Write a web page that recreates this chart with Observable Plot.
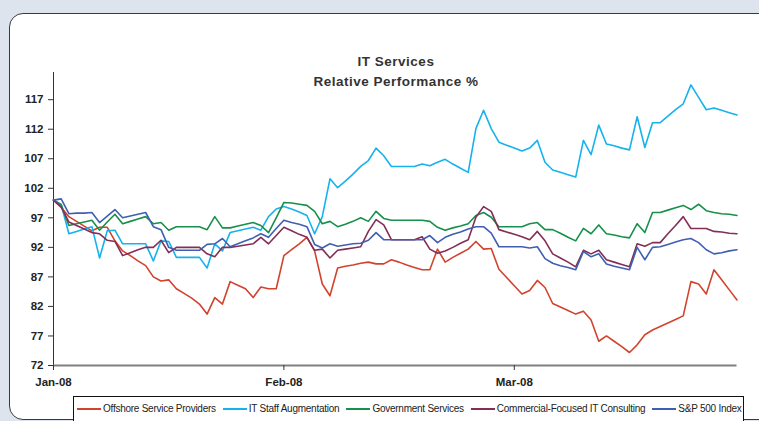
<!DOCTYPE html>
<html><head><meta charset="utf-8">
<script src="https://cdn.jsdelivr.net/npm/d3@7"></script>
<script src="https://cdn.jsdelivr.net/npm/@observablehq/plot@0.6"></script>
<style>
html,body{margin:0;padding:0;background:#dde4ee;width:759px;height:421px;overflow:hidden;font-family:"Liberation Sans",Arial,sans-serif;}
#panel{position:absolute;left:9px;top:13px;width:820px;height:405px;background:#fff;border:1.6px solid #3a3a3a;border-radius:14px;}
#title{position:absolute;left:53px;width:686px;top:52px;text-align:center;font-weight:bold;font-size:13.5px;color:#333;line-height:19.5px;letter-spacing:0.5px;}
#chart{position:absolute;left:0;top:0;}
#legend{position:absolute;left:73px;top:396px;width:671px;height:40px;border:1px solid #111;background:#fff;box-sizing:border-box;display:flex;align-items:flex-start;padding:5px 0 0 3px;font-family:"Liberation Sans Narrow","Arial Narrow","Liberation Sans",sans-serif;font-size:10px;color:#222;letter-spacing:-0.25px;}
.item{display:flex;align-items:center;margin-right:7px;white-space:nowrap;height:13px;}
.sw{width:24px;height:2px;margin-right:2px;}
</style></head>
<body>
<div id="panel"></div>
<div id="title">IT Services<br>Relative Performance %</div>
<div id="chart"></div>
<div id="legend"></div>
<script>
// Series names and colours
const seriesNames = ["Offshore Service Providers","IT Staff Augmentation","Government Services","Commercial-Focused IT Consulting","S&P 500 Index"];
const seriesColors = ["#d2432e","#16b2ee","#16904a","#832e55","#3f5fb2"];

// x-axis tick labels and the category positions where they fall
const tickLabels = ["Jan-08","Feb-08","Mar-08"];
const tickIndex = [0, 30, 60];

// y-axis tick labels
const yTicks = [72,77,82,87,92,97,102,107,112,117];

// Relative performance values (index 100 = start), one per category
const offshore = [100,98.8,97.2,96.4,95.6,94.8,95.4,95.4,93.1,91.4,90.6,89.7,88.9,87.0,86.3,86.5,85.0,84.2,83.4,
  82.4,80.7,83.5,82.4,86.2,85.6,85.0,83.5,85.3,85.0,85.0,90.6,91.6,92.6,93.7,91.4,85.8,83.8,88.5,
  88.8,89.0,89.3,89.5,89.2,89.2,89.9,89.5,89.0,88.6,88.2,88.2,91.7,89.5,90.3,91.0,91.7,93.0,91.7,
  91.8,88.3,86.9,85.5,84.1,84.7,86.4,85.2,82.5,81.9,81.3,80.7,81.2,79.7,76.1,77.0,76.1,75.2,74.2,
  75.5,77.2,78.0,78.6,79.2,79.8,80.4,86.2,85.8,84.1,88.2,86.5,84.8,83.1];
const itStaff = [100,99.3,94.3,94.7,95.1,95.5,90.2,94.8,94.9,92.6,92.6,92.6,92.6,89.7,93.1,93.0,90.3,90.3,90.3,
  90.3,88.5,92.6,91.4,94.5,94.8,95.1,95.4,94.9,97.2,98.5,98.9,98.5,98.0,97.4,94.3,97.2,103.6,102.1,
  103.2,104.4,105.7,106.7,108.8,107.5,105.7,105.7,105.7,105.7,106.1,105.8,106.4,106.9,106.1,105.4,104.7,112.1,115.2,
  112.1,109.8,109.3,108.8,108.3,108.8,110.1,106.4,105.1,104.7,104.3,103.9,110.1,107.7,112.7,109.5,109.2,108.8,108.5,
  114.1,108.9,113.1,113.1,114.2,115.3,116.3,119.5,117.4,115.3,115.6,115.2,114.8,114.4];
const government = [100,99.2,95.7,96.0,96.3,96.6,94.9,96.3,97.6,96.0,96.4,96.8,97.2,96.0,96.2,94.9,95.5,95.5,95.5,
  95.5,95.0,97.2,95.3,95.3,95.6,95.9,96.2,95.7,94.5,97.0,99.6,99.5,99.3,99.1,98.1,96.0,96.4,95.5,
  95.9,96.4,97.0,96.4,98.1,96.9,96.6,96.6,96.6,96.6,96.6,96.4,95.4,94.9,95.3,95.6,96.0,97.4,97.9,
  97.1,95.5,95.5,95.5,95.5,96.0,96.2,95.0,95.0,94.4,93.7,93.1,95.2,94.3,95.8,94.3,94.1,93.8,93.6,
  96.0,94.5,97.9,97.9,98.3,98.7,99.1,98.4,99.3,98.2,97.9,97.7,97.6,97.4];
const commercial = [100,98.8,96.3,95.7,95.1,94.5,94.3,93.2,93.0,90.6,91.1,91.6,92.0,92.0,93.2,91.1,92.0,92.0,92.0,
  92.0,90.9,90.4,92.0,92.0,92.2,92.4,92.6,93.7,92.6,94.0,95.4,94.8,94.2,93.7,91.5,91.7,90.2,91.5,
  91.7,91.9,92.1,94.7,96.7,95.8,93.3,93.3,93.3,93.3,93.8,91.7,91.0,91.4,92.0,92.7,93.3,97.1,98.9,
  98.1,95.0,94.6,94.2,93.8,93.3,94.7,93.1,90.9,90.2,89.5,88.7,91.5,90.9,91.5,89.9,89.5,89.1,88.7,
  92.6,92.2,92.8,92.8,94.3,95.7,97.2,95.2,95.2,95.2,94.7,94.6,94.4,94.3];
const sp500 = [100,100.2,97.7,97.8,97.8,97.9,96.2,97.3,98.4,97.0,97.3,97.6,97.9,95.5,95.0,92.0,91.5,91.5,91.5,
  91.5,92.5,92.6,93.5,92.1,92.6,93.1,93.6,94.3,93.7,95.2,96.6,96.2,95.9,95.5,92.5,91.9,92.6,92.2,
  92.4,92.6,92.7,93.2,94.5,93.3,93.3,93.3,93.3,93.3,93.3,94.0,92.8,93.7,94.2,94.6,95.1,95.5,95.5,
  94.4,92.1,92.1,92.1,92.1,91.9,92.1,90.1,89.3,88.9,88.6,88.2,91.3,90.4,90.9,89.2,88.8,88.5,88.2,
  92.0,89.9,92.0,92.1,92.5,92.9,93.3,93.5,92.8,91.6,90.9,91.1,91.4,91.6];

const seriesValues = [offshore, itStaff, government, commercial, sp500];
const data = seriesValues.flatMap((vals, k) => vals.map((v, i) => ({i, v, s: seriesNames[k]})));
const lastIndex = offshore.length - 1;

const chart = Plot.plot({
  width: 759, height: 395,
  marginLeft: 53, marginRight: 22.5, marginTop: 72, marginBottom: 30,
  x: {domain: [0, lastIndex], axis: null},
  y: {domain: [72, 121.6], axis: null},
  color: {domain: seriesNames, range: seriesColors},
  style: {fontFamily: "'Liberation Sans', Arial, sans-serif", background: "transparent", overflow: "visible", color: "#222"},
  marks: [
    Plot.ruleX([0], {stroke: "#333", strokeWidth: 1}),
    Plot.axisY({ticks: yTicks, label: null, tickSize: 5, tickPadding: 5, fontWeight: "bold", fontSize: 11.5, stroke: "#333", strokeOpacity: 1, tickFormat: d => String(d)}),
    Plot.line(data, {x: "i", y: "v", z: "s", stroke: "s", strokeWidth: 1.6}),
    Plot.ruleY([72], {stroke: "#808080", strokeWidth: 2}),
    Plot.axisX({ticks: tickIndex, label: null, tickFormat: d => tickLabels[tickIndex.indexOf(d)], tickSize: 5, tickPadding: 7, fontWeight: "bold", fontSize: 11.5, stroke: "#333", strokeOpacity: 1})
  ]
});
document.getElementById("chart").appendChild(chart);

const legend = document.getElementById("legend");
seriesNames.forEach((n, k) => {
  const it = document.createElement("div"); it.className = "item";
  const sw = document.createElement("div"); sw.className = "sw"; sw.style.background = seriesColors[k];
  const tx = document.createElement("span"); tx.textContent = n;
  it.appendChild(sw); it.appendChild(tx); legend.appendChild(it);
});
</script>
</body></html>
